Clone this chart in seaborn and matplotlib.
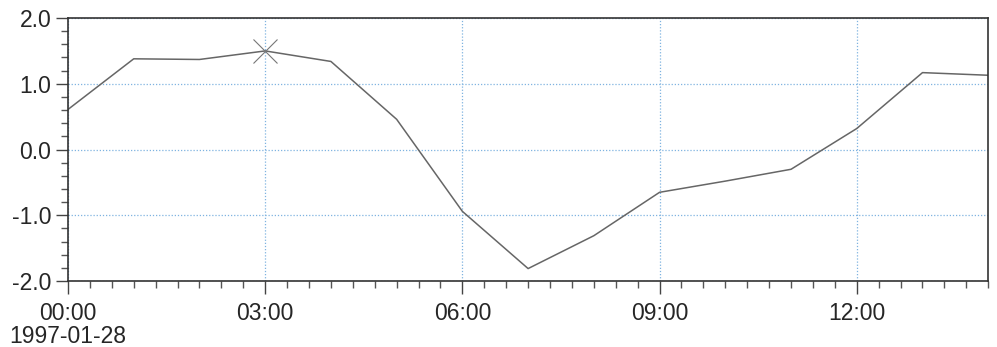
import pandas as pd
import matplotlib.pyplot as plt
import matplotlib.dates as mdates
from matplotlib.ticker import MultipleLocator
import seaborn as sns

# hourly values, 1997-01-28
hours = ["00:00", "01:00", "02:00", "03:00", "04:00", "05:00", "06:00", "07:00",
         "08:00", "09:00", "10:00", "11:00", "12:00", "13:00", "14:00"]
values = [0.61, 1.38, 1.37, 1.50, 1.34, 0.46, -0.94, -1.81,
          -1.31, -0.65, -0.48, -0.30, 0.32, 1.17, 1.13]
marked_hour = "03:00"
marked_value = 1.50

day = "1997-01-28"
df = pd.DataFrame({"time": pd.to_datetime([day + " " + h for h in hours]), "value": values})

sns.set_style("white")
plt.rcParams["font.family"] = ["Liberation Sans", "DejaVu Sans"]

fig = plt.figure(figsize=(9.97, 3.47), dpi=100)
ax = fig.add_axes([0.0682, 0.19, 0.923, 0.758])

sns.lineplot(data=df, x="time", y="value", color="#666666", linewidth=1.1, ax=ax)
ax.plot(pd.to_datetime(day + " " + marked_hour), marked_value, marker="x",
        markersize=17, markeredgewidth=0.8, color="#777777", zorder=5)

t0 = pd.to_datetime(day + " 00:00")
ax.set_xlim(t0, pd.to_datetime(day + " 14:00"))
ax.set_ylim(-2, 2)

ax.xaxis.set_major_locator(mdates.HourLocator(byhour=range(0, 24, 3)))
ax.xaxis.set_minor_locator(mdates.MinuteLocator(byminute=[0, 20, 40]))

def fmt(x, pos=None):
    d = mdates.num2date(x)
    s = d.strftime("%H:%M")
    if d.hour == 0 and d.minute == 0:
        s += "\n" + day
    return s

ax.xaxis.set_major_formatter(plt.FuncFormatter(fmt))
ax.yaxis.set_major_locator(MultipleLocator(1.0))
ax.yaxis.set_minor_locator(MultipleLocator(0.2))
ax.yaxis.set_major_formatter(plt.FuncFormatter(lambda v, p: f"{v:.1f}"))

ax.grid(True, which="major", color="#7fb3e0", linestyle=(0, (1, 1.5)), linewidth=0.9)
ax.tick_params(which="major", direction="out", length=9, width=1, color="#444444",
               labelsize=16.5, bottom=True, left=True)
ax.tick_params(axis="x", which="major", pad=6)
ax.tick_params(axis="y", which="major", pad=3)
ax.tick_params(which="minor", direction="out", length=5, width=1, color="#555555",
               bottom=True, left=True)
for lbl in ax.get_xticklabels():
    lbl.set_linespacing(1.0)
for side in ["top", "right", "left", "bottom"]:
    ax.spines[side].set_color("#333333")
    ax.spines[side].set_linewidth(1.2)

ax.set_xlabel("")
ax.set_ylabel("")
fig.savefig("out.png", dpi=100)
